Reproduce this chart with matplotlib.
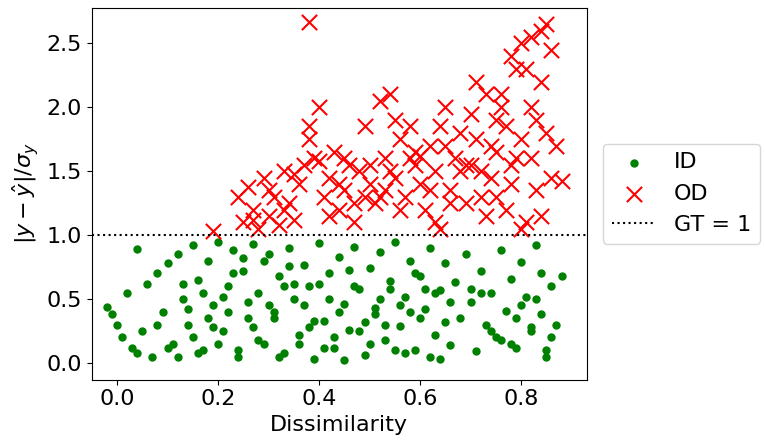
import matplotlib.pyplot as plt

# in-distribution points (dissimilarity, normalised error)
id_x = [-0.02, -0.01, 0.0, 0.01, 0.02, 0.03, 0.04, 0.05, 0.06, 0.07, 0.08, 0.09,
        0.10, 0.11, 0.12, 0.13, 0.14, 0.15, 0.16, 0.17, 0.18, 0.19, 0.20, 0.21,
        0.22, 0.23, 0.24, 0.25, 0.26, 0.27, 0.28, 0.29, 0.30, 0.31, 0.32, 0.33,
        0.34, 0.35, 0.36, 0.37, 0.38, 0.39, 0.40, 0.41, 0.42, 0.43, 0.44, 0.45,
        0.46, 0.47, 0.48, 0.49, 0.50, 0.51, 0.52, 0.53, 0.54, 0.55, 0.56, 0.57,
        0.58, 0.59, 0.60, 0.61, 0.62, 0.63, 0.64, 0.65, 0.66, 0.67, 0.68, 0.69,
        0.70, 0.71, 0.72, 0.73, 0.74, 0.75, 0.76, 0.77, 0.78, 0.79, 0.80, 0.81,
        0.82, 0.83, 0.84, 0.85, 0.86, 0.87, 0.88,
        0.12, 0.15, 0.18, 0.21, 0.24, 0.27, 0.30, 0.33, 0.36, 0.39, 0.42, 0.45,
        0.48, 0.51, 0.54, 0.57, 0.60, 0.63, 0.13, 0.16, 0.19, 0.22, 0.25, 0.28,
        0.31, 0.34, 0.37, 0.40, 0.43, 0.46, 0.49, 0.52, 0.55, 0.58, 0.61, 0.64,
        0.14, 0.17, 0.20, 0.23, 0.26, 0.29, 0.32, 0.35, 0.38, 0.41, 0.44, 0.47,
        0.50, 0.53, 0.56, 0.59, 0.62, 0.65, 0.04, 0.08, 0.10, 0.66, 0.70, 0.74,
        0.78, 0.80, 0.82, 0.84, 0.86, 0.72, 0.76, 0.79, 0.83, 0.85]
id_y = [0.44, 0.38, 0.30, 0.20, 0.55, 0.12, 0.89, 0.25, 0.62, 0.05, 0.70, 0.40,
        0.78, 0.15, 0.85, 0.50, 0.30, 0.92, 0.65, 0.10, 0.80, 0.45, 0.95, 0.25,
        0.60, 0.88, 0.05, 0.72, 0.35, 0.93, 0.55, 0.15, 0.85, 0.40, 0.68, 0.08,
        0.90, 0.50, 0.22, 0.77, 0.60, 0.03, 0.94, 0.33, 0.70, 0.12, 0.83, 0.46,
        0.26, 0.91, 0.58, 0.06, 0.74, 0.38, 0.87, 0.18, 0.64, 0.95, 0.29, 0.52,
        0.80, 0.10, 0.68, 0.42, 0.90, 0.22, 0.57, 0.78, 0.14, 0.63, 0.35, 0.85,
        0.48, 0.09, 0.72, 0.30, 0.55, 0.20, 0.88, 0.41, 0.66, 0.12, 0.79, 0.52,
        0.25, 0.92, 0.38, 0.05, 0.60, 0.30, 0.68,
        0.05, 0.20, 0.35, 0.52, 0.10, 0.28, 0.45, 0.60, 0.15, 0.33, 0.50, 0.02,
        0.25, 0.43, 0.58, 0.08, 0.35, 0.55, 0.62, 0.08, 0.28, 0.40, 0.82, 0.18,
        0.35, 0.76, 0.45, 0.62, 0.20, 0.73, 0.32, 0.50, 0.10, 0.40, 0.58, 0.03,
        0.42, 0.55, 0.15, 0.70, 0.48, 0.80, 0.05, 0.62, 0.28, 0.12, 0.40, 0.60,
        0.15, 0.30, 0.45, 0.70, 0.05, 0.32, 0.08, 0.30, 0.12, 0.48, 0.58, 0.25,
        0.15, 0.45, 0.28, 0.70, 0.20, 0.55, 0.18, 0.35, 0.50, 0.10]

# out-of-distribution points
od_x = [0.19, 0.24, 0.25, 0.26, 0.27, 0.28, 0.29, 0.30, 0.31, 0.32, 0.33, 0.34,
        0.35, 0.36, 0.37, 0.38, 0.38, 0.38, 0.39, 0.40, 0.41, 0.42, 0.43, 0.44,
        0.45, 0.46, 0.47, 0.48, 0.49, 0.50, 0.51, 0.52, 0.53, 0.54, 0.55, 0.56,
        0.57, 0.58, 0.59, 0.60, 0.61, 0.62, 0.63, 0.64, 0.65, 0.66, 0.67, 0.68,
        0.69, 0.70, 0.71, 0.72, 0.73, 0.74, 0.75, 0.76, 0.77, 0.78, 0.79, 0.80,
        0.81, 0.82, 0.83, 0.84, 0.85, 0.86, 0.87, 0.88,
        0.30, 0.35, 0.40, 0.45, 0.50, 0.55, 0.60, 0.65, 0.70, 0.75, 0.80, 0.82,
        0.84, 0.78, 0.76, 0.72, 0.68, 0.62, 0.58, 0.52, 0.47, 0.42, 0.33, 0.27,
        0.81, 0.83, 0.85, 0.79, 0.77, 0.74, 0.71, 0.66, 0.64, 0.56, 0.53, 0.44,
        0.80, 0.82, 0.84, 0.86, 0.78, 0.75, 0.73, 0.69, 0.63, 0.59, 0.54, 0.49]
od_y = [1.03, 1.30, 1.10, 1.38, 1.20, 1.05, 1.45, 1.15, 1.30, 1.08, 1.50, 1.25,
        1.12, 1.40, 1.55, 2.67, 1.85, 1.75, 1.60, 2.00, 1.30, 1.45, 1.65, 1.20,
        1.35, 1.55, 1.10, 1.50, 1.85, 1.40, 1.25, 2.05, 1.60, 2.10, 1.90, 1.75,
        1.30, 1.85, 1.55, 1.40, 1.20, 1.70, 1.50, 1.05, 2.00, 1.35, 1.60, 1.80,
        1.25, 1.95, 2.20, 1.50, 2.10, 1.70, 1.30, 2.00, 1.85, 2.40, 1.60, 2.50,
        2.30, 2.55, 1.90, 2.60, 2.65, 1.45, 1.70, 1.42,
        1.35, 1.48, 1.58, 1.60, 1.55, 1.45, 1.62, 1.70, 1.55, 1.65, 1.75, 2.00,
        2.20, 1.40, 2.10, 1.30, 1.50, 1.35, 1.60, 1.30, 1.25, 1.15, 1.20, 1.12,
        1.10, 1.35, 1.80, 2.30, 1.20, 1.45, 1.75, 1.25, 1.85, 1.20, 1.35, 1.40,
        1.05, 1.60, 1.15, 2.45, 1.55, 1.90, 1.15, 1.55, 1.10, 1.65, 1.50, 1.30]

plt.rcParams['font.size'] = 16
fig = plt.figure(figsize=(7.65, 4.44), dpi=100)
ax = fig.add_axes([0.12, 0.145, 0.647, 0.838])
ax.scatter(id_x, id_y, s=25, color='green', label='ID')
ax.scatter(od_x, od_y, s=120, marker='x', color='red', label='OD')
ax.axhline(1.0, color='black', linestyle=':', label='GT = 1')
ax.set_xlim(-0.05, 0.93)
ax.set_ylim(-0.13, 2.78)
ax.set_xticks([0.0, 0.2, 0.4, 0.6, 0.8])
ax.set_xlabel('Dissimilarity')
ax.set_ylabel(r'$|y-\hat{y}|/\sigma_y$')
ax.legend(loc='center left', bbox_to_anchor=(1.01, 0.5))
fig.savefig('out.png', dpi=100)
